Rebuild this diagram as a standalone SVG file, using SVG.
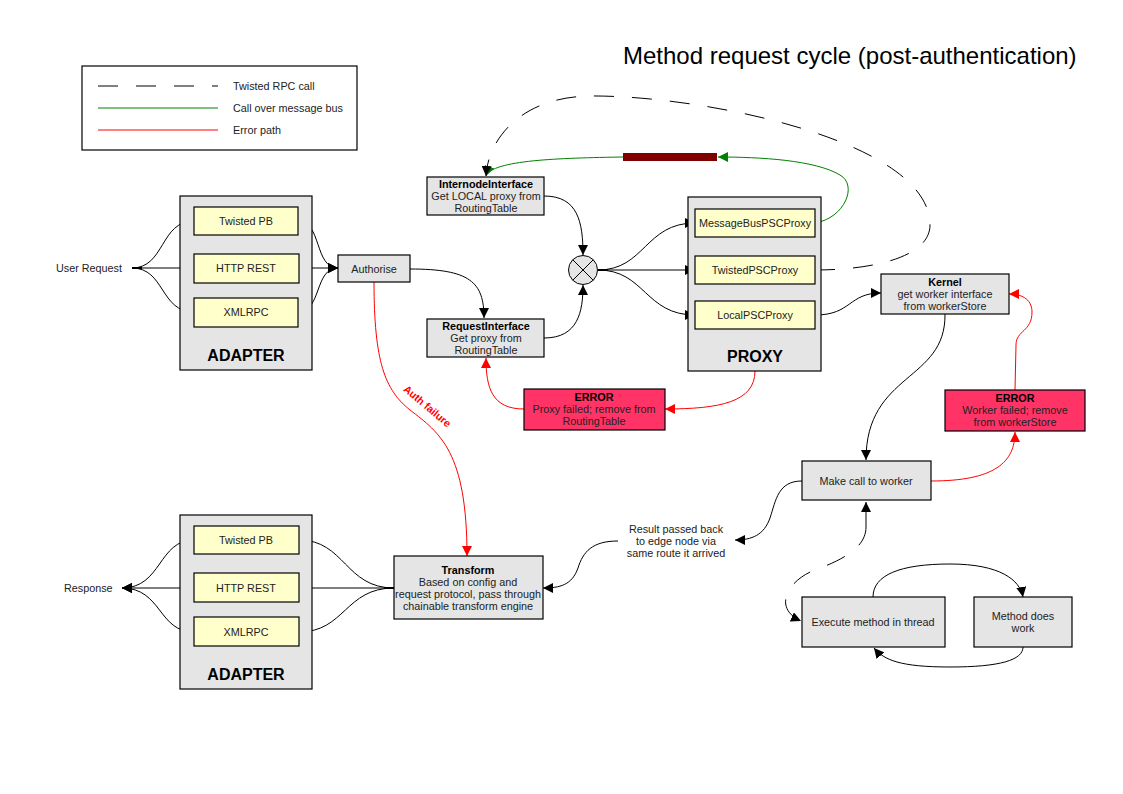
<svg xmlns="http://www.w3.org/2000/svg" width="1123" height="794" viewBox="0 0 1123 794">
<defs>
<marker id="ak" markerUnits="userSpaceOnUse" markerWidth="10" markerHeight="10" viewBox="0 0 10 10" refX="10" refY="5" orient="auto"><path d="M0,0 L10,5 L0,10 z" fill="#000"/></marker>
<marker id="ar" markerUnits="userSpaceOnUse" markerWidth="10" markerHeight="10" viewBox="0 0 10 10" refX="10" refY="5" orient="auto"><path d="M0,0 L10,5 L0,10 z" fill="#f00"/></marker>
<marker id="ag" markerUnits="userSpaceOnUse" markerWidth="10" markerHeight="10" viewBox="0 0 10 10" refX="10" refY="5" orient="auto"><path d="M0,0 L10,5 L0,10 z" fill="#008000"/></marker>
</defs>
<style>
text{font-family:"Liberation Sans",Arial,sans-serif;font-size:10.8px;fill:#222}
.c{text-anchor:middle}
.b{font-weight:bold;fill:#000}
.big{font-size:16px;font-weight:bold;fill:#000}
.box{stroke:#000;stroke-width:1.2}
.gray{fill:#e5e5e5}
.yel{fill:#ffffcc}
.pink{fill:#ff3366}
.k{fill:none;stroke:#000;stroke-width:1}
.kd{fill:none;stroke:#000;stroke-width:1;stroke-dasharray:20,18}
.r{fill:none;stroke:#f00;stroke-width:1}
.g{fill:none;stroke:#008000;stroke-width:1}
</style>
<rect width="1123" height="794" fill="#fff"/>
<text x="623" y="64" style="font-size:24px;fill:#000">Method request cycle (post-authentication)</text>

<g id="legend">
<rect x="82" y="66" width="275" height="84" fill="#fff" stroke="#000" stroke-width="1.2"/>
<line x1="98" y1="86" x2="218" y2="86" class="kd"/>
<line x1="98" y1="108" x2="218" y2="108" class="g"/>
<line x1="98" y1="130" x2="218" y2="130" class="r"/>
<text x="233" y="90">Twisted RPC call</text>
<text x="233" y="112">Call over message bus</text>
<text x="233" y="134">Error path</text>
</g>

<g id="connectors">
<!-- user request fan -->
<line x1="132" y1="268" x2="142" y2="268" stroke="#000" stroke-width="2"/>
<path class="k" d="M132,268 C165,268 160,221 194,221" marker-end="url(#ak)"/>
<path class="k" d="M132,268 L194,268" marker-end="url(#ak)"/>
<path class="k" d="M132,268 C165,268 160,312 194,312" marker-end="url(#ak)"/>
<path class="k" d="M298,221 C322,221 314,268 338,268" marker-end="url(#ak)"/>
<path class="k" d="M299,268 L338,268" marker-end="url(#ak)"/>
<path class="k" d="M298,312 C322,312 314,268 338,268" marker-end="url(#ak)"/>
<!-- authorise to request interface -->
<path class="k" d="M410,269 C470,269 484,282 484,318" marker-end="url(#ak)"/>
<!-- interfaces to circle -->
<path class="k" d="M544,196 C578,196 583,222 583,255" marker-end="url(#ak)"/>
<path class="k" d="M544,338 C578,338 583,312 583,285" marker-end="url(#ak)"/>
<!-- circle to proxies -->
<line x1="598" y1="270" x2="608" y2="270" stroke="#000" stroke-width="2"/>
<path class="k" d="M598,270 C645,270 645,223 695,223" marker-end="url(#ak)"/>
<path class="k" d="M598,270 L695,270" marker-end="url(#ak)"/>
<path class="k" d="M598,270 C645,270 645,315 695,315" marker-end="url(#ak)"/>
<!-- message bus -->
<path class="g" d="M815,223 C845,218 858,185 840,175 C815,160 760,157 718,157" marker-end="url(#ag)"/>
<path class="g" d="M623,157 C560,158 492,160 486,176" marker-end="url(#ag)"/>
<!-- twisted RPC -->
<path class="kd" d="M815,270 C870,270 930,258 930,225 C930,140 700,95 590,96 C520,97 488,140 486,176" marker-end="url(#ak)"/>
<!-- local proxy to kernel -->
<path class="k" d="M815,315 C852,315 848,293 881,293" marker-end="url(#ak)"/>
<!-- kernel to make call -->
<path class="k" d="M945,314 C946,382 866,372 866,460" marker-end="url(#ak)"/>
<!-- worker error -->
<path class="r" d="M931,481 C995,481 1015,462 1015,432" marker-end="url(#ar)"/>
<path class="r" d="M1015,390 L1016,345 C1016,330 1032,332 1032,312 C1032,298 1020,294 1009,294" marker-end="url(#ar)"/>
<!-- proxy error -->
<path class="r" d="M755,371 C755,402 720,409 665,409" marker-end="url(#ar)"/>
<path class="r" d="M524,409 C492,409 486,388 486,358" marker-end="url(#ar)"/>
<!-- auth failure -->
<path class="r" d="M374,282 C374,362 385,390 410,410 C440,433 467,452 467,556" marker-end="url(#ar)"/>
<text x="0" y="0" transform="translate(425,409) rotate(40)" class="c" style="fill:#f00;font-weight:bold;font-size:10.5px">Auth failure</text>
<!-- result back -->
<path class="k" d="M802,481 C778,481 776,500 770,518 C764,535 752,540 735,540" marker-end="url(#ak)"/>
<path class="k" d="M618,541 C592,541 583,552 578,568 C572,585 560,588 543,588" marker-end="url(#ak)"/>
<!-- transform to adapters -->
<line x1="384" y1="588" x2="394" y2="588" stroke="#000" stroke-width="2"/>
<path class="k" d="M394,588 C345,588 345,540 299,540" marker-end="url(#ak)"/>
<path class="k" d="M394,588 L299,588" marker-end="url(#ak)"/>
<path class="k" d="M394,588 C345,588 345,632 299,632" marker-end="url(#ak)"/>
<path class="k" d="M194,540 C158,540 162,588 122,588" marker-end="url(#ak)"/>
<path class="k" d="M194,588 L122,588" marker-end="url(#ak)"/>
<path class="k" d="M194,632 C158,632 162,588 122,588" marker-end="url(#ak)"/>
<!-- make call dashed to execute -->
<path class="kd" d="M866,527 C866,548 842,560 815,570 C788,580 772,608 801,621" marker-end="url(#ak)"/>
<path class="k" d="M866,527 L866,502" marker-end="url(#ak)"/>
<!-- execute loop -->
<path class="k" d="M873,597 C873,575 900,564 950,564 C1000,564 1020,580 1023,597" marker-end="url(#ak)"/>
<path class="k" d="M1023,647 C1023,660 1000,667 950,667 C900,667 884,660 874,648" marker-end="url(#ak)"/>
</g>

<rect x="623" y="153" width="94" height="8" fill="#800000"/>

<g id="adapter-top">
<rect class="box gray" x="180" y="196" width="132" height="174"/>
<rect class="box yel" x="194" y="207" width="104" height="28"/>
<text class="c" x="246" y="225">Twisted PB</text>
<rect class="box yel" x="194" y="254" width="105" height="29"/>
<text class="c" x="246" y="272">HTTP REST</text>
<rect class="box yel" x="194" y="298" width="104" height="29"/>
<text class="c" x="246" y="316">XMLRPC</text>
<text class="c big" x="246" y="361">ADAPTER</text>
</g>

<text x="56" y="272">User Request</text>

<g id="authorise">
<rect class="box gray" x="338" y="255" width="72" height="27"/>
<text class="c" x="374" y="273">Authorise</text>
</g>

<g id="internode">
<rect class="box gray" x="427" y="177" width="117" height="38"/>
<text class="c b" x="486" y="188">InternodeInterface</text>
<text class="c" x="486" y="200">Get LOCAL proxy from</text>
<text class="c" x="486" y="212">RoutingTable</text>
</g>

<g id="request">
<rect class="box gray" x="427" y="319" width="117" height="38"/>
<text class="c b" x="486" y="330">RequestInterface</text>
<text class="c" x="486" y="342">Get proxy from</text>
<text class="c" x="486" y="354">RoutingTable</text>
</g>

<g id="junction">
<circle cx="583" cy="270" r="14.5" fill="#e5e5e5" stroke="#000" stroke-width="1"/>
<path d="M572.7,259.7 L593.3,280.3 M593.3,259.7 L572.7,280.3" stroke="#000" stroke-width="1"/>
</g>

<g id="proxy">
<rect class="box gray" x="688" y="197" width="133" height="174"/>
<rect class="box yel" x="695" y="209" width="120" height="28"/>
<text class="c" x="755" y="227">MessageBusPSCProxy</text>
<rect class="box yel" x="695" y="256" width="120" height="28"/>
<text class="c" x="755" y="274">TwistedPSCProxy</text>
<rect class="box yel" x="695" y="301" width="120" height="28"/>
<text class="c" x="755" y="319">LocalPSCProxy</text>
<text class="c big" x="755" y="362">PROXY</text>
</g>

<g id="kernel">
<rect class="box gray" x="881" y="274" width="128" height="40"/>
<text class="c b" x="945" y="286">Kernel</text>
<text class="c" x="945" y="298">get worker interface</text>
<text class="c" x="945" y="310">from workerStore</text>
</g>

<g id="error-proxy">
<rect class="box pink" x="524" y="389" width="141" height="41"/>
<text class="c b" x="594" y="401">ERROR</text>
<text class="c" x="594" y="413">Proxy failed; remove from</text>
<text class="c" x="594" y="425">RoutingTable</text>
</g>

<g id="error-worker">
<rect class="box pink" x="945" y="390" width="140" height="41"/>
<text class="c b" x="1015" y="402">ERROR</text>
<text class="c" x="1015" y="414">Worker failed; remove</text>
<text class="c" x="1015" y="426">from workerStore</text>
</g>

<g id="makecall">
<rect class="box gray" x="802" y="461" width="129" height="39"/>
<text class="c" x="866" y="485">Make call to worker</text>
</g>

<g id="result">
<text class="c" x="676" y="533">Result passed back</text>
<text class="c" x="676" y="545">to edge node via</text>
<text class="c" x="676" y="557">same route it arrived</text>
</g>

<g id="transform">
<rect class="box gray" x="394" y="556" width="149" height="63"/>
<text class="c b" x="468" y="574">Transform</text>
<text class="c" x="468" y="586">Based on config and</text>
<text class="c" x="468" y="598">request protocol, pass through</text>
<text class="c" x="468" y="610">chainable transform engine</text>
</g>

<g id="adapter-bottom">
<rect class="box gray" x="180" y="515" width="132" height="174"/>
<rect class="box yel" x="194" y="526" width="105" height="28"/>
<text class="c" x="246" y="544">Twisted PB</text>
<rect class="box yel" x="194" y="573" width="105" height="29"/>
<text class="c" x="246" y="592">HTTP REST</text>
<rect class="box yel" x="194" y="617" width="105" height="29"/>
<text class="c" x="246" y="636">XMLRPC</text>
<text class="c big" x="246" y="680">ADAPTER</text>
</g>

<text x="64" y="592">Response</text>

<g id="execute">
<rect class="box gray" x="802" y="597" width="143" height="50"/>
<text class="c" x="873" y="626">Execute method in thread</text>
</g>

<g id="method">
<rect class="box gray" x="974" y="597" width="98" height="50"/>
<text class="c" x="1023" y="620">Method does</text>
<text class="c" x="1023" y="632">work</text>
</g>
</svg>
